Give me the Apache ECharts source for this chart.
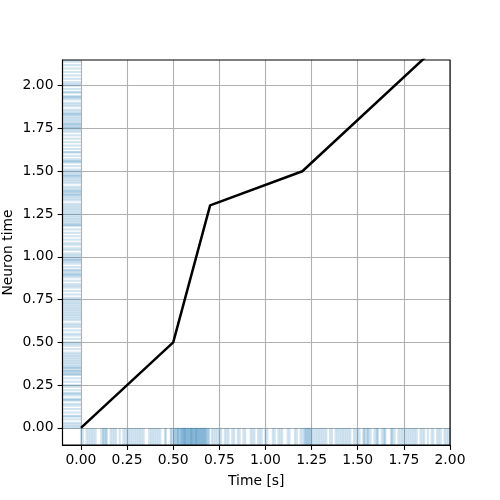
<!DOCTYPE html>
<html>
<head>
<meta charset="utf-8">
<script src="https://cdn.jsdelivr.net/npm/echarts@6/dist/echarts.min.js"></script>
<style>html,body{margin:0;padding:0;background:#fff}#c{width:500px;height:500px}</style>
</head>
<body>
<div id="c"></div>
<script>
// ---- data ----
var lineX = [0.0, 0.5, 0.7, 1.2, 2.0];
var lineY = [0.0, 0.5, 1.3, 1.5, 2.3];

var xTicks = [0, 0.25, 0.5, 0.75, 1.0, 1.25, 1.5, 1.75, 2.0];
var yTicks = [0, 0.25, 0.5, 0.75, 1.0, 1.25, 1.5, 1.75, 2.0];

// spike times on the time axis (s)
var timeSpikes = [
  0.00,0.01,0.03,0.04,0.05,0.06,0.07,0.08,0.11,0.12,0.122,0.13,0.137,0.14,
  0.16,0.17,0.18,0.19,0.21,0.23,0.24,0.25,0.26,0.27,0.28,0.29,0.30,0.31,0.32,0.33,0.34,
  0.37,0.38,0.39,0.40,0.41,0.42,0.43,0.456,0.46,0.487,0.49,
  0.500,0.505,0.510,0.515,0.520,0.525,0.526,0.530,0.535,0.540,0.543,0.547,0.550,0.553,0.557,
  0.560,0.562,0.563,0.567,0.570,0.573,0.577,0.580,0.583,0.587,0.590,0.593,0.597,0.598,0.600,
  0.603,0.607,0.610,0.613,0.617,0.620,0.623,0.625,0.627,0.630,0.633,0.637,0.640,0.643,0.647,
  0.650,0.653,0.657,0.660,0.663,0.667,0.670,0.673,0.677,0.680,0.685,0.690,0.695,
  0.71,0.72,0.73,0.74,0.75,0.76,0.78,0.79,0.80,0.82,0.83,0.85,0.86,0.88,0.89,
  0.92,0.93,0.94,0.96,0.97,0.98,1.00,1.01,1.04,1.05,1.07,1.08,1.09,1.12,1.13,1.16,1.17,
  1.19,1.20,1.21,1.215,1.22,1.225,1.23,1.235,1.24,1.245,1.25,1.26,1.27,1.28,1.29,1.30,1.31,1.32,1.33,
  1.35,1.36,1.38,1.39,1.40,1.41,1.42,1.43,1.44,1.45,1.46,1.48,1.49,1.50,1.51,
  1.53,1.535,1.54,1.55,1.555,1.56,1.57,1.59,1.60,1.605,1.61,1.63,1.64,1.645,1.65,
  1.68,1.685,1.69,1.70,1.72,1.73,1.74,1.75,1.76,1.77,1.78,1.79,1.80,1.81,1.82,
  1.84,1.85,1.86,1.88,1.90,1.91,1.93,1.94,1.95,1.97,1.98,1.99,2.00
];

// spike times on the neuron-time axis
var neuronSpikes = [
  0.00,0.01,0.02,0.03,0.05,0.066,0.07,0.09,0.11,0.13,0.14,0.16,0.164,0.17,0.19,0.20,0.203,
  0.22,0.24,0.25,0.27,0.29,0.31,0.313,0.32,0.33,0.332,0.34,0.35,0.352,0.36,0.37,0.38,0.39,
  0.40,0.41,0.42,0.43,0.44,0.46,0.48,0.49,0.50,0.52,0.54,0.55,0.57,0.59,0.60,0.61,
  0.63,0.64,0.65,0.66,0.67,0.68,0.69,0.70,0.71,0.72,0.73,0.74,0.75,0.76,0.78,0.80,
  0.82,0.83,0.84,0.86,0.88,0.89,0.895,0.90,0.91,0.92,0.924,0.94,0.96,0.97,0.98,0.982,0.99,
  1.00,1.01,1.02,1.04,1.05,1.07,1.08,1.10,1.12,1.14,1.16,1.18,1.187,1.19,1.20,1.21,1.22,
  1.23,1.24,1.25,1.26,1.27,1.28,1.29,1.30,1.31,1.33,1.34,1.35,1.36,1.363,1.37,1.38,1.382,
  1.39,1.40,1.41,1.43,1.44,1.45,1.46,1.47,1.473,1.48,1.49,1.50,1.51,1.53,1.55,1.557,1.56,
  1.57,1.59,1.61,1.612,1.63,1.65,1.67,1.69,1.71,1.73,1.74,1.75,1.755,1.76,1.77,1.775,
  1.78,1.79,1.80,1.81,1.82,1.83,1.833,1.84,1.85,1.86,1.88,1.89,1.90,1.92,1.93,1.933,
  1.94,1.96,1.962,1.98,2.00,2.01,2.02,2.04,2.06,2.08,2.10,2.12,2.14,2.15
];

var xMin = -0.1, xMax = 2.0, yMin = -0.1, yMax = 2.15;

// ---- chart ----
var chart = echarts.init(document.getElementById('c'), null, {renderer: 'canvas'});
var FONT = 'DejaVu Sans';
var rugColor = 'rgba(31,119,180,0.2)';
var rugW = 2.1;

function fmt(v) { return Number(v).toFixed(2); }

var option = {
  animation: false,
  backgroundColor: '#fff',
  grid: {left: 62.5, right: 50, top: 60, bottom: 55, containLabel: false, outerBoundsMode: 'none',
         show: true, borderColor: '#000', borderWidth: 1.1, backgroundColor: 'transparent', z: 10},
  xAxis: {
    type: 'value', min: xMin, max: xMax,
    name: 'Time [s]', nameLocation: 'middle', nameGap: 29, nameMoveOverlap: false,
    nameTextStyle: {fontFamily: FONT, fontSize: 13.9, color: '#000'},
    axisLine: {show: true, onZero: false, lineStyle: {color: '#000', width: 1.1}},
    axisTick: {show: true, customValues: xTicks, length: 4.9, lineStyle: {color: '#000', width: 1.1}},
    axisLabel: {customValues: xTicks, formatter: fmt, margin: 8, fontFamily: FONT, fontSize: 13.9, color: '#000'},
    splitLine: {show: true, lineStyle: {color: '#b0b0b0', width: 1.1}}
  },
  yAxis: {
    type: 'value', min: yMin, max: yMax,
    name: 'Neuron time', nameLocation: 'middle', nameGap: 47, nameMoveOverlap: false,
    nameTextStyle: {fontFamily: FONT, fontSize: 13.9, color: '#000'},
    axisLine: {show: true, onZero: false, lineStyle: {color: '#000', width: 1.1}},
    axisTick: {show: true, customValues: yTicks, length: 4.9, lineStyle: {color: '#000', width: 1.1}},
    axisLabel: {customValues: yTicks, formatter: fmt, margin: 9, fontFamily: FONT, fontSize: 13.9, color: '#000'},
    splitLine: {show: true, lineStyle: {color: '#b0b0b0', width: 1.1}}
  },
  series: [
    {
      type: 'custom', coordinateSystem: 'cartesian2d', clip: true, silent: true, z: 2,
      data: timeSpikes.map(function (t) { return [t, 0]; }),
      encode: {x: 0, y: 1},
      renderItem: function (params, api) {
        var t = api.value(0);
        var p0 = api.coord([t, 0]);
        var p1 = api.coord([t, yMin]);
        return {type: 'rect', shape: {x: p0[0] - rugW / 2, y: p0[1], width: rugW, height: p1[1] - p0[1]}, style: {fill: rugColor}};
      }
    },
    {
      type: 'custom', coordinateSystem: 'cartesian2d', clip: true, silent: true, z: 2,
      data: neuronSpikes.map(function (t) { return [0, t]; }),
      encode: {x: 0, y: 1},
      renderItem: function (params, api) {
        var t = api.value(1);
        var p0 = api.coord([xMin, t]);
        var p1 = api.coord([0, t]);
        return {type: 'rect', shape: {x: p0[0], y: p0[1] - rugW / 2, width: p1[0] - p0[0], height: rugW}, style: {fill: rugColor}};
      }
    },
    {
      type: 'line', z: 5, clip: true, silent: true,
      data: lineX.map(function (x, i) { return [x, lineY[i]]; }),
      showSymbol: false, symbol: 'none',
      lineStyle: {color: '#000', width: 2.5}
    }
  ]
};
chart.setOption(option);
</script>
</body>
</html>
